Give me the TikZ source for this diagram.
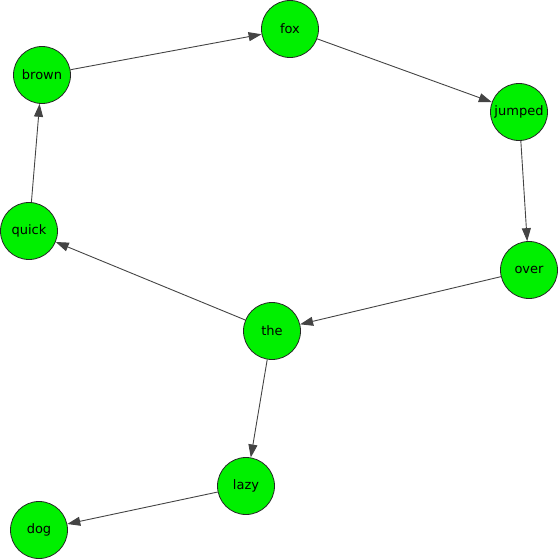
\documentclass[tikz,border=0pt]{standalone}
\usepackage{fontspec}
\setmainfont{DejaVu Sans}
\usetikzlibrary{arrows.meta}
\definecolor{nodegreen}{HTML}{00F000}
\definecolor{edgegray}{HTML}{444444}
\begin{document}
\begin{tikzpicture}[x=1pt,y=-1pt,
  word/.style={circle,draw=black!85,line width=0.8pt,fill=nodegreen,minimum size=57pt,inner sep=0pt,font=\fontsize{13}{15}\selectfont},
  link/.style={draw=edgegray,line width=0.9pt,-{Triangle[length=13pt,width=9pt]}}]
\useasboundingbox (0,0) rectangle (558,560);
\node[word] (fox) at (290,29) {fox};
\node[word] (brown) at (42,75) {brown};
\node[word] (jumped) at (519,112) {jumped};
\node[word] (quick) at (29,231) {quick};
\node[word] (over) at (529,270) {over};
\node[word] (the) at (272,331) {the};
\node[word] (lazy) at (246,486) {lazy};
\node[word] (dog) at (39,530) {dog};
\draw[link] (brown) -- (fox);
\draw[link] (fox) -- (jumped);
\draw[link] (jumped) -- (over);
\draw[link] (over) -- (the);
\draw[link] (the) -- (quick);
\draw[link] (quick) -- (brown);
\draw[link] (the) -- (lazy);
\draw[link] (lazy) -- (dog);
\end{tikzpicture}
\end{document}
